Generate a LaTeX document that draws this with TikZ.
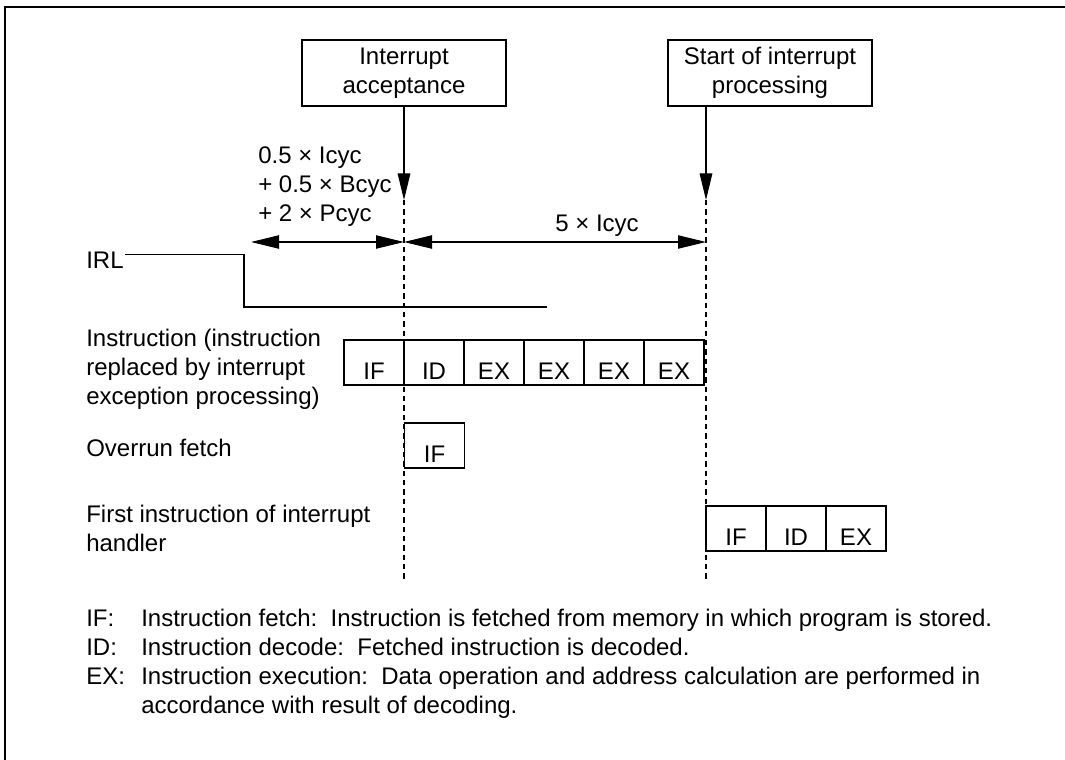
\documentclass[tikz,border=0pt]{standalone}
\usepackage{fontspec}
\setmainfont{Liberation Sans}
\usetikzlibrary{arrows.meta, positioning}
\tikzset{
  tc-event/.style={
    rectangle, draw, line width=0.8pt, minimum width=153pt,
    minimum height=49.5pt, align=center, inner sep=0pt
  },
  tc-stage/.style={
    rectangle, draw, line width=0.8pt, minimum width=45pt,
    minimum height=33.75pt, inner sep=0pt, outer sep=0pt,
    text height=26pt, text depth=0pt
  },
  tc-label/.style={anchor=west, inner sep=0pt, align=left},
  tc-key/.style={anchor=base west, inner sep=0pt},
  tc-line/.style={line width=0.8pt},
  tc-flow/.style={-{Triangle[length=20pt, width=9.5pt]}, line width=0.8pt},
  tc-dim/.style={{Triangle[length=21pt, width=10pt]}-{Triangle[length=21pt, width=10pt]}, line width=0.8pt},
  tc-mark/.style={dash pattern=on 4pt off 3pt, line width=0.8pt},
}

\begin{document}
\begin{tikzpicture}[x=0.75pt, y=-0.75pt, font=\fontsize{18}{21.75}\selectfont]
  \useasboundingbox (0,0) rectangle (1065,760);
  \draw[line width=1.5pt] (5,760) -- (5,7) -- (1065,7);

  % events
  \node[tc-event] (acc) at (404,73) {Interrupt\\acceptance};
  \node[tc-event] (st) at (770,73) {Start of interrupt\\processing};
  \coordinate (accTip) at (404,200);
  \coordinate (accEnd) at (404,580);
  \coordinate (stTip) at (706,200);
  \coordinate (stEnd) at (706,582);
  \draw[tc-flow] (acc.south) -- (accTip);
  \draw[tc-flow] (st.south -| stTip) -- (stTip);
  \draw[tc-mark] (accTip) -- (accEnd);
  \draw[tc-mark] (stTip) -- (stEnd);

  % timing
  \coordinate (dimL) at (251,242);
  \draw[tc-dim] (dimL) -- (accTip |- dimL);
  \draw[tc-dim] (accTip |- dimL) -- (stTip |- dimL);
  \node[tc-label] (dimA) at (258,187) {0.5 × Icyc\\+ 0.5 × Bcyc\\+ 2 × Pcyc};
  \node[inner sep=0pt] (dimB) at (597,226) {5 × Icyc};

  % IRL
  \node[anchor=base west, inner sep=0pt] (irl) at (86,268) {IRL};
  \coordinate (irlEnd) at (547,307);
  \draw[tc-line] ([xshift=1pt, yshift=4pt]irl.east) -| (244,307) -- (irlEnd);

  % pipeline rows
  \node[tc-label] (lInstr) at (86,369) {Instruction (instruction\\replaced by interrupt\\exception processing)};
  \node[tc-stage] (i1) at (374,362.5) {IF};
  \node[tc-stage, right=0pt of i1] (i2) {ID};
  \node[tc-stage, right=0pt of i2] (i3) {EX};
  \node[tc-stage, right=0pt of i3] (i4) {EX};
  \node[tc-stage, right=0pt of i4] (i5) {EX};
  \node[tc-stage, right=0pt of i5] (i6) {EX};

  \node[tc-label] (lOver) at (86,448) {Overrun fetch};
  \node[tc-stage] (o1) at (434.5,445.5) {IF};

  \node[tc-label] (lHand) at (86,528) {First instruction of interrupt\\handler};
  \node[tc-stage] (h1) at (736,528.5) {IF};
  \node[tc-stage, right=0pt of h1] (h2) {ID};
  \node[tc-stage, right=0pt of h2] (h3) {EX};

  % legend
  \node[tc-key] (kIF) at (86,626) {IF:};
  \node[tc-key] (tIF) at (141,626) {Instruction fetch:\ \ Instruction is fetched from memory in which program is stored.};
  \node[tc-key] (kID) at (86,655) {ID:};
  \node[tc-key] (tID) at (141,655) {Instruction decode:\ \ Fetched instruction is decoded.};
  \node[tc-key] (kEX) at (86,684) {EX:};
  \node[tc-key] (tEX) at (141,684) {Instruction execution:\ \ Data operation and address calculation are performed in};
  \node[tc-key] (tEX2) at (141,713) {accordance with result of decoding.};
\end{tikzpicture}
\end{document}
